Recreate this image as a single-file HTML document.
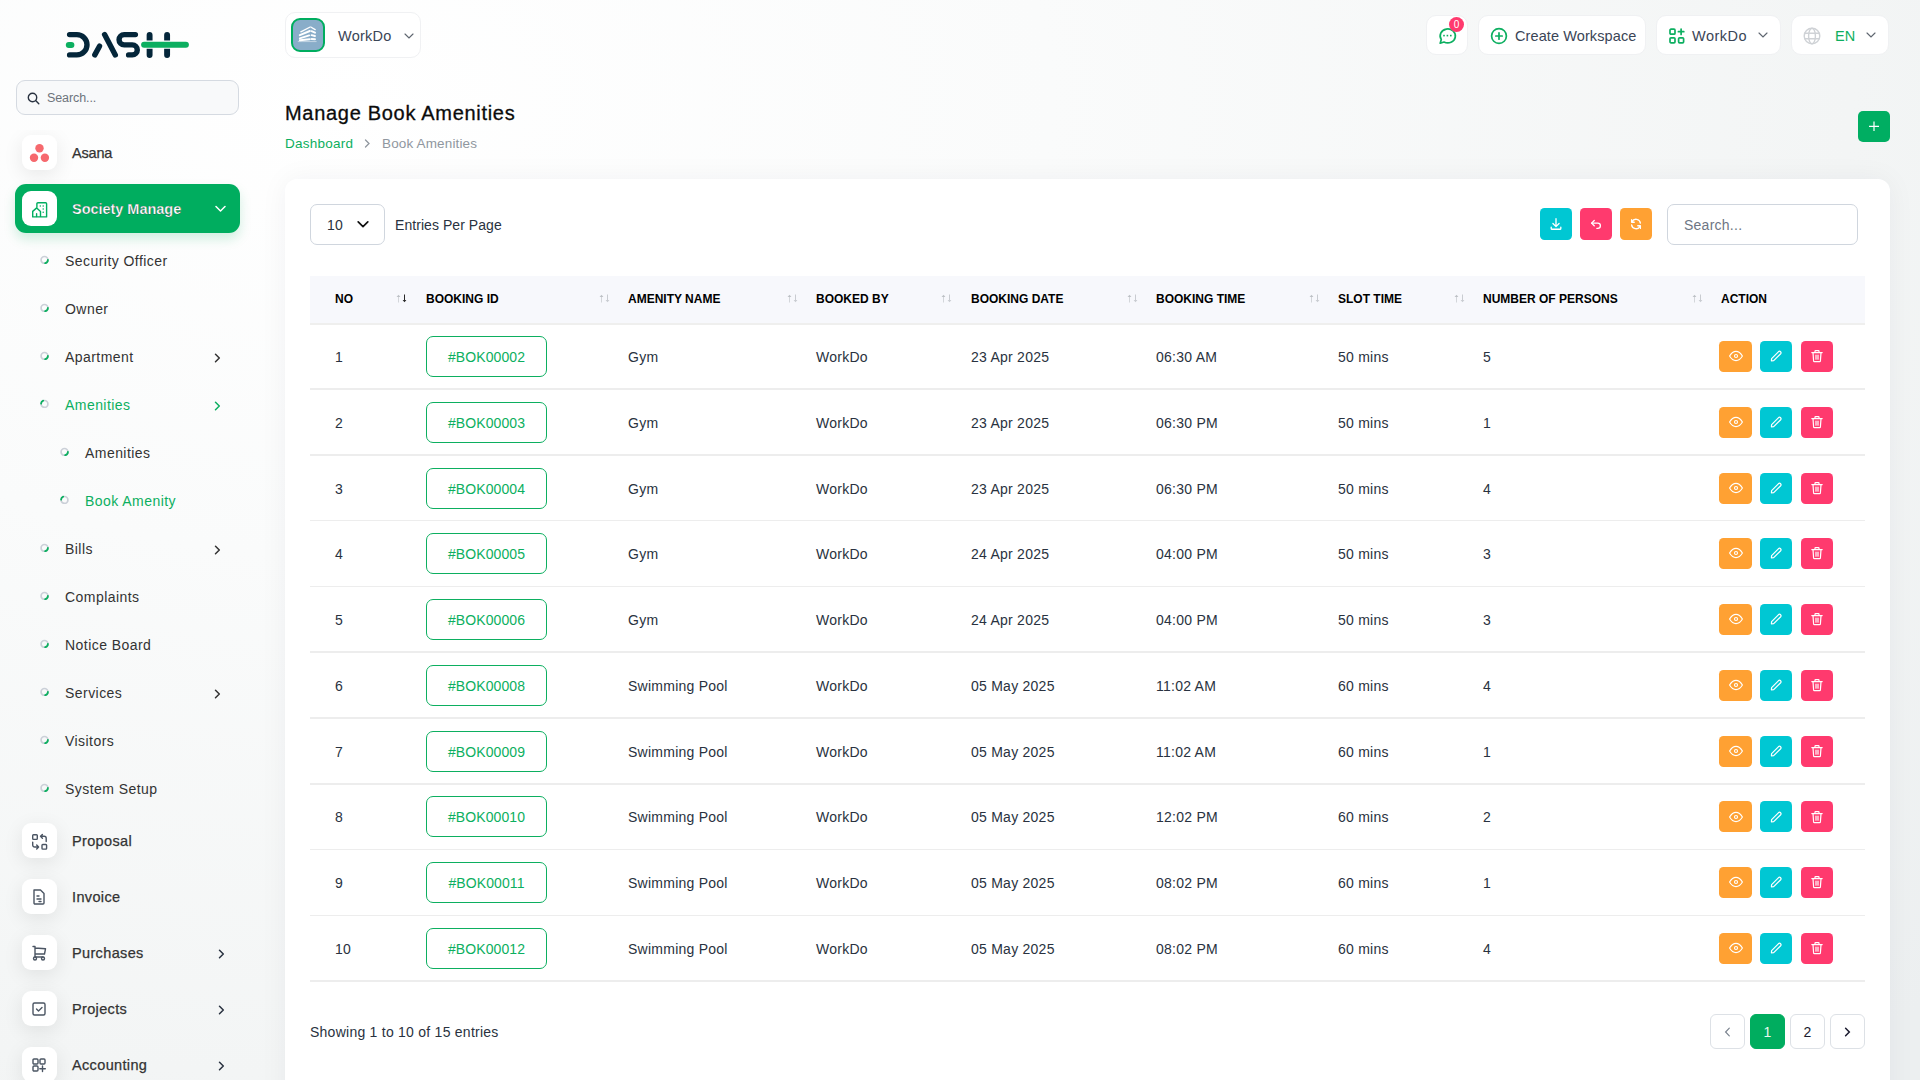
<!DOCTYPE html>
<html><head><meta charset="utf-8">
<style>
*{box-sizing:border-box;margin:0;padding:0}
html,body{width:1920px;height:1080px;overflow:hidden}
body{font-family:"Liberation Sans",sans-serif;color:#293240;background:radial-gradient(2000px 1300px at 350px 100px,#ffffff 0%,#fafbfb 35%,#f3f5f5 75%,#eceff0 105%);position:relative}
.abs{position:absolute}
svg{display:block}
/* sidebar */
.logo{left:66px;top:31px}
.sb-search{left:16px;top:80px;width:223px;height:35px;border:1px solid #d5dae1;border-radius:9px;background:#f8f9fa}
.sb-search .ph{position:absolute;left:30px;top:10px;font-size:12.5px;color:#6d747c;letter-spacing:-.1px}
.sb-search svg{position:absolute;left:10px;top:11px}
.ibox{width:35px;height:35px;border-radius:9px;background:#fff;box-shadow:0 5px 20px rgba(0,0,0,.085)}
.sbt{font-size:14.5px;color:#333;letter-spacing:-.2px;white-space:nowrap;-webkit-text-stroke:.25px #333}
.sbl{font-size:14px;color:#333;letter-spacing:.45px;white-space:nowrap}
.bul{width:9px;height:9px}
.chev{width:10px;height:10px}
.active{background:#00ad5f;left:15px;top:184px;width:225px;height:49px;border-radius:11px;box-shadow:0 6px 12px rgba(0,173,95,.18)}
/* header */
.hbox{background:#fff;border-radius:10px;border:1px solid #f0f1f3}
.htxt{font-size:14.5px;color:#3a4556;white-space:nowrap;letter-spacing:.1px}
/* card */
.card{left:285px;top:179px;width:1605px;height:960px;background:#fff;border-radius:12px;box-shadow:0 0 28px rgba(30,40,60,.05)}
.th{font-size:12px;font-weight:bold;color:#000;white-space:nowrap;letter-spacing:0px}
.td{font-size:14px;color:#293240;white-space:nowrap;letter-spacing:.25px}
.bid{width:121px;height:41px;border:1.5px solid #0caf60;border-radius:7px;color:#0caf60;font-size:14px;text-align:center;line-height:38px;padding-top:1px;letter-spacing:.1px}
.btn{width:33px;height:31px;border-radius:4.5px}
.o{background:#ffa133}.c{background:#00c7d3}.p{background:#ff3a6e}
.pg{width:35px;height:35px;border:1px solid #dde1e6;border-radius:6px;background:#fff;text-align:center;line-height:33px;font-size:14px;color:#1a1a2e}
</style></head>
<body>
<!-- SIDEBAR -->
<svg class="abs" style="left:60px;top:26px" width="136" height="36" viewBox="60 26 136 36">
  <g fill="none" stroke-linecap="round" stroke="#04263a" stroke-width="5.4">
    <path d="M69.6 34.6 H76.85 A10.15 10.15 0 0 1 76.85 54.9 H69.6"/>
    <path d="M94.8 54.9 L99.5 46.2"/>
    <path d="M104.6 34.6 L115.3 54.9"/>
    <path d="M135.4 34.6 H124.2 A5.15 5.15 0 0 0 124.2 44.9 H132.3 A5 5 0 0 1 132.3 54.9 H128.6"/>
    <path d="M149.6 34.9 V55 M167.1 34.9 V55" stroke-width="5.9"/>
  </g>
  <path d="M68.8 45 H71.4" stroke="#0caf60" stroke-width="6" stroke-linecap="round"/>
  <path d="M144.1 44.65 H185.9" stroke="#ffffff" stroke-width="8.4" stroke-linecap="round"/>
  <path d="M144.1 44.65 H185.9" stroke="#0caf60" stroke-width="6" stroke-linecap="round"/>
</svg>
<div class="abs sb-search">
  <svg width="13" height="13" viewBox="0 0 13 13"><circle cx="5.5" cy="5.5" r="4.2" fill="none" stroke="#293240" stroke-width="1.4"/><path d="M8.6 8.6 L11.8 11.8" stroke="#293240" stroke-width="1.4" stroke-linecap="round"/></svg>
  <div class="ph">Search...</div>
</div>

<div class="abs" style="left:0;top:130px;width:265px;height:950px;overflow:hidden"><div class="abs ibox" style="left:22px;top:5px"></div></div>
<svg class="abs" style="left:29px;top:142px" width="21" height="21" viewBox="0 0 21 21"><circle cx="10.5" cy="6.2" r="4.2" fill="#f6696e"/><circle cx="5" cy="15.7" r="4.2" fill="#f6696e"/><circle cx="15.9" cy="15.7" r="4.2" fill="#f6696e"/></svg>
<div class="abs sbt" style="left:72px;top:145px">Asana</div>

<div class="abs active"></div>
<div class="abs ibox" style="left:22px;top:191px;box-shadow:none"></div>
<svg class="abs" style="left:31px;top:201px" width="18" height="18" viewBox="0 0 18 18" fill="none" stroke="#00ad5f" stroke-width="1.4" stroke-linejoin="round" stroke-linecap="round"><path d="M5.9 6.6 V2.7 a1 1 0 0 1 1 -1 H14.6 a1 1 0 0 1 1 1 V15.9 H1.7 V10.4 L5.7 6.9 L9.5 10.4 V15.9"/><path d="M5.6 12.7 V15.6"/><g fill="#00ad5f" stroke="none"><circle cx="9.3" cy="5.1" r=".75"/><circle cx="12.2" cy="5.1" r=".75"/><circle cx="12.2" cy="8.1" r=".75"/><circle cx="12.2" cy="11.2" r=".75"/></g></svg>
<div class="abs sbt" style="left:72px;top:201px;color:#fff;font-weight:bold;letter-spacing:-.03px">Society Manage</div>
<svg class="abs" style="left:215px;top:205px" width="11" height="8" viewBox="0 0 11 8"><path d="M1 1.5 L5.5 6 L10 1.5" fill="none" stroke="#fff" stroke-width="1.5" stroke-linecap="round" stroke-linejoin="round"/></svg>

<svg class="abs" style="left:40px;top:255px" width="9" height="9" viewBox="0 0 9 9"><circle cx="4.5" cy="4.9" r="3.4" fill="none" stroke="#cbd0d8" stroke-width="1.7"/><path d="M7.9 5 A3.4 3.4 0 0 1 5.2 8.2" fill="none" stroke="#0caf60" stroke-width="1.8" stroke-linecap="round"/></svg>
<div class="abs sbl" style="left:65px;top:253px;color:#333333">Security Officer</div>
<svg class="abs" style="left:40px;top:303px" width="9" height="9" viewBox="0 0 9 9"><circle cx="4.5" cy="4.9" r="3.4" fill="none" stroke="#cbd0d8" stroke-width="1.7"/><path d="M7.9 5 A3.4 3.4 0 0 1 5.2 8.2" fill="none" stroke="#0caf60" stroke-width="1.8" stroke-linecap="round"/></svg>
<div class="abs sbl" style="left:65px;top:301px;color:#333333">Owner</div>
<svg class="abs" style="left:40px;top:351px" width="9" height="9" viewBox="0 0 9 9"><circle cx="4.5" cy="4.9" r="3.4" fill="none" stroke="#cbd0d8" stroke-width="1.7"/><path d="M7.9 5 A3.4 3.4 0 0 1 5.2 8.2" fill="none" stroke="#0caf60" stroke-width="1.8" stroke-linecap="round"/></svg>
<div class="abs sbl" style="left:65px;top:349px;color:#333333">Apartment</div>
<svg class="abs" style="left:213.5px;top:352.8px" width="7" height="10" viewBox="0 0 7 10"><path d="M1.5 1.2 L5.3 5 L1.5 8.8" fill="none" stroke="#333333" stroke-width="1.5" stroke-linecap="round" stroke-linejoin="round"/></svg>
<svg class="abs" style="left:40px;top:399px" width="9" height="9" viewBox="0 0 9 9"><circle cx="4.5" cy="4.9" r="3.4" fill="none" stroke="#cbd0d8" stroke-width="1.7"/><path d="M1.1 4.6 A3.4 3.4 0 0 1 3.2 1.6" fill="none" stroke="#0caf60" stroke-width="1.8" stroke-linecap="round"/></svg>
<div class="abs sbl" style="left:65px;top:397px;color:#0caf60">Amenities</div>
<svg class="abs" style="left:213.5px;top:400.8px" width="7" height="10" viewBox="0 0 7 10"><path d="M1.5 1.2 L5.3 5 L1.5 8.8" fill="none" stroke="#0caf60" stroke-width="1.5" stroke-linecap="round" stroke-linejoin="round"/></svg>
<svg class="abs" style="left:60px;top:447px" width="9" height="9" viewBox="0 0 9 9"><circle cx="4.5" cy="4.9" r="3.4" fill="none" stroke="#cbd0d8" stroke-width="1.7"/><path d="M7.9 5 A3.4 3.4 0 0 1 5.2 8.2" fill="none" stroke="#0caf60" stroke-width="1.8" stroke-linecap="round"/></svg>
<div class="abs sbl" style="left:85px;top:445px;color:#333333">Amenities</div>
<svg class="abs" style="left:60px;top:495px" width="9" height="9" viewBox="0 0 9 9"><circle cx="4.5" cy="4.9" r="3.4" fill="none" stroke="#cbd0d8" stroke-width="1.7"/><path d="M1.1 4.6 A3.4 3.4 0 0 1 3.2 1.6" fill="none" stroke="#0caf60" stroke-width="1.8" stroke-linecap="round"/></svg>
<div class="abs sbl" style="left:85px;top:493px;color:#0caf60">Book Amenity</div>
<svg class="abs" style="left:40px;top:543px" width="9" height="9" viewBox="0 0 9 9"><circle cx="4.5" cy="4.9" r="3.4" fill="none" stroke="#cbd0d8" stroke-width="1.7"/><path d="M7.9 5 A3.4 3.4 0 0 1 5.2 8.2" fill="none" stroke="#0caf60" stroke-width="1.8" stroke-linecap="round"/></svg>
<div class="abs sbl" style="left:65px;top:541px;color:#333333">Bills</div>
<svg class="abs" style="left:213.5px;top:544.8px" width="7" height="10" viewBox="0 0 7 10"><path d="M1.5 1.2 L5.3 5 L1.5 8.8" fill="none" stroke="#333333" stroke-width="1.5" stroke-linecap="round" stroke-linejoin="round"/></svg>
<svg class="abs" style="left:40px;top:591px" width="9" height="9" viewBox="0 0 9 9"><circle cx="4.5" cy="4.9" r="3.4" fill="none" stroke="#cbd0d8" stroke-width="1.7"/><path d="M7.9 5 A3.4 3.4 0 0 1 5.2 8.2" fill="none" stroke="#0caf60" stroke-width="1.8" stroke-linecap="round"/></svg>
<div class="abs sbl" style="left:65px;top:589px;color:#333333">Complaints</div>
<svg class="abs" style="left:40px;top:639px" width="9" height="9" viewBox="0 0 9 9"><circle cx="4.5" cy="4.9" r="3.4" fill="none" stroke="#cbd0d8" stroke-width="1.7"/><path d="M7.9 5 A3.4 3.4 0 0 1 5.2 8.2" fill="none" stroke="#0caf60" stroke-width="1.8" stroke-linecap="round"/></svg>
<div class="abs sbl" style="left:65px;top:637px;color:#333333">Notice Board</div>
<svg class="abs" style="left:40px;top:687px" width="9" height="9" viewBox="0 0 9 9"><circle cx="4.5" cy="4.9" r="3.4" fill="none" stroke="#cbd0d8" stroke-width="1.7"/><path d="M7.9 5 A3.4 3.4 0 0 1 5.2 8.2" fill="none" stroke="#0caf60" stroke-width="1.8" stroke-linecap="round"/></svg>
<div class="abs sbl" style="left:65px;top:685px;color:#333333">Services</div>
<svg class="abs" style="left:213.5px;top:688.8px" width="7" height="10" viewBox="0 0 7 10"><path d="M1.5 1.2 L5.3 5 L1.5 8.8" fill="none" stroke="#333333" stroke-width="1.5" stroke-linecap="round" stroke-linejoin="round"/></svg>
<svg class="abs" style="left:40px;top:735px" width="9" height="9" viewBox="0 0 9 9"><circle cx="4.5" cy="4.9" r="3.4" fill="none" stroke="#cbd0d8" stroke-width="1.7"/><path d="M7.9 5 A3.4 3.4 0 0 1 5.2 8.2" fill="none" stroke="#0caf60" stroke-width="1.8" stroke-linecap="round"/></svg>
<div class="abs sbl" style="left:65px;top:733px;color:#333333">Visitors</div>
<svg class="abs" style="left:40px;top:783px" width="9" height="9" viewBox="0 0 9 9"><circle cx="4.5" cy="4.9" r="3.4" fill="none" stroke="#cbd0d8" stroke-width="1.7"/><path d="M7.9 5 A3.4 3.4 0 0 1 5.2 8.2" fill="none" stroke="#0caf60" stroke-width="1.8" stroke-linecap="round"/></svg>
<div class="abs sbl" style="left:65px;top:781px;color:#333333">System Setup</div>

<!-- bottom modules -->
<div class="abs ibox" style="left:22px;top:823px"></div>
<svg class="abs" style="left:30px;top:832px" width="18" height="18" viewBox="0 0 18 18" fill="none" stroke="#4b5563" stroke-width="1.4" stroke-linecap="round" stroke-linejoin="round"><rect x="2.7" y="2.8" width="4.6" height="4.6" rx=".8"/><rect x="12" y="12.5" width="4.6" height="4.6" rx=".8"/><path d="M16.2 9.6 V6.3 a2 2 0 0 0 -2 -2 H10.6 M12.4 2.4 L10.5 4.3 L12.4 6.2"/><path d="M2.7 10.2 V13 a2 2 0 0 0 2 2 H8.5 M6.7 13.1 L8.6 15 L6.7 16.9"/></svg>
<div class="abs sbt" style="left:72px;top:833px;letter-spacing:.35px">Proposal</div>
<div class="abs ibox" style="left:22px;top:879px"></div>
<svg class="abs" style="left:30px;top:888px" width="18" height="18" viewBox="0 0 18 18" fill="none" stroke="#4b5563" stroke-width="1.4" stroke-linecap="round" stroke-linejoin="round"><path d="M4 2 H10.5 L14 5.5 V15 a1 1 0 0 1 -1 1 H5 a1 1 0 0 1 -1 -1 Z"/><path d="M7 8 H9 M7 11 H11 M9 13.5 H11"/></svg>
<div class="abs sbt" style="left:72px;top:889px;letter-spacing:.35px">Invoice</div>
<div class="abs ibox" style="left:22px;top:935px"></div>
<svg class="abs" style="left:30px;top:944px" width="18" height="18" viewBox="0 0 18 18" fill="none" stroke="#4b5563" stroke-width="1.4" stroke-linecap="round" stroke-linejoin="round"><circle cx="5" cy="14.5" r="1.5"/><circle cx="13" cy="14.5" r="1.5"/><path d="M13 13 H5 V2.5 H3 M5 4 L15.5 4.8 L14.5 10 H5"/></svg>
<div class="abs sbt" style="left:72px;top:945px;letter-spacing:.35px">Purchases</div>
<svg class="abs" style="left:218px;top:949px" width="7" height="10" viewBox="0 0 7 10"><path d="M1.5 1.2 L5.3 5 L1.5 8.8" fill="none" stroke="#293240" stroke-width="1.5" stroke-linecap="round" stroke-linejoin="round"/></svg>
<div class="abs ibox" style="left:22px;top:991px"></div>
<svg class="abs" style="left:30px;top:1000px" width="18" height="18" viewBox="0 0 18 18" fill="none" stroke="#4b5563" stroke-width="1.4" stroke-linecap="round" stroke-linejoin="round"><rect x="3" y="3" width="12" height="12" rx="1.5"/><path d="M6.5 9 L8.5 11 L12 7.5"/></svg>
<div class="abs sbt" style="left:72px;top:1001px;letter-spacing:.35px">Projects</div>
<svg class="abs" style="left:218px;top:1005px" width="7" height="10" viewBox="0 0 7 10"><path d="M1.5 1.2 L5.3 5 L1.5 8.8" fill="none" stroke="#293240" stroke-width="1.5" stroke-linecap="round" stroke-linejoin="round"/></svg>
<div class="abs ibox" style="left:22px;top:1047px"></div>
<svg class="abs" style="left:30px;top:1056px" width="18" height="18" viewBox="0 0 18 18" fill="none" stroke="#4b5563" stroke-width="1.4" stroke-linecap="round" stroke-linejoin="round"><rect x="3" y="3" width="5" height="5" rx="1"/><rect x="10" y="3" width="5" height="5" rx="1"/><rect x="3" y="10" width="5" height="5" rx="1"/><path d="M12.5 10 V15.5 M9.8 12.8 H15.3"/></svg>
<div class="abs sbt" style="left:72px;top:1057px;letter-spacing:.35px">Accounting</div>
<svg class="abs" style="left:218px;top:1061px" width="7" height="10" viewBox="0 0 7 10"><path d="M1.5 1.2 L5.3 5 L1.5 8.8" fill="none" stroke="#293240" stroke-width="1.5" stroke-linecap="round" stroke-linejoin="round"/></svg>

<!-- HEADER -->
<div class="abs hbox" style="left:285px;top:12px;width:136px;height:45.5px"></div>
<div class="abs" style="left:291px;top:18px;width:34px;height:34px;border:2.2px solid #00ad5f;border-radius:9px;background:#89adc9"></div>
<svg class="abs" style="left:290px;top:17px" width="37" height="36" viewBox="290 17 37 36" fill="none" stroke="#fff" stroke-linecap="round">
<path d="M300.8 31.8 L310.2 27" stroke-width="1.3"/><path d="M311.2 27.2 L315.2 29.6" stroke-width="1.3"/>
<path d="M299.8 35.2 L309.8 31" stroke-width="2"/><path d="M311.6 31.2 L315 32.6" stroke-width="2"/>
<path d="M299.8 38.3 L309.2 35.4" stroke-width="1.9"/><path d="M311.6 35.2 L315 36" stroke-width="1.9"/>
<path d="M299.8 40.2 L309.8 39.2" stroke-width="1.9"/><path d="M311.6 39 L315 39.2" stroke-width="1.9"/>
<path d="M298.2 41.6 H316.2" stroke-width="0.9" stroke-opacity=".55"/>
</svg>
<div class="abs htxt" style="left:338px;top:28px;letter-spacing:.25px">WorkDo</div>
<svg class="abs" style="left:404px;top:33px" width="10" height="7" viewBox="0 0 10 7"><path d="M1 1 L5 5 L9 1" fill="none" stroke="#5f6670" stroke-width="1.15" stroke-linecap="round"/></svg>

<div class="abs hbox" style="left:1426px;top:15px;width:42px;height:40px"></div>
<svg class="abs" style="left:1438px;top:27px" width="19" height="18" viewBox="0 0 19 18"><path d="M2.2 16.2 L3.3 12.6 A7.6 7 0 1 1 6 15 Z" fill="none" stroke="#0caf60" stroke-width="1.7" stroke-linejoin="round"/><rect x="5.2" y="7.8" width="1.6" height="1.6" fill="#0caf60"/><rect x="8.6" y="7.8" width="1.6" height="1.6" fill="#0caf60"/><rect x="12" y="7.8" width="1.6" height="1.6" fill="#0caf60"/></svg>
<div class="abs" style="left:1449px;top:17px;width:15px;height:15px;border-radius:50%;background:#ff3a6e;color:#fff;font-size:10px;text-align:center;line-height:15px">0</div>

<div class="abs hbox" style="left:1478px;top:15px;width:168px;height:40px"></div>
<svg class="abs" style="left:1490px;top:27px" width="18" height="18" viewBox="0 0 18 18" fill="none" stroke="#0caf60" stroke-width="1.7"><circle cx="9" cy="9" r="7.4"/><path d="M9 5.8 V12.2 M5.8 9 H12.2" stroke-linecap="round"/></svg>
<div class="abs htxt" style="left:1515px;top:28px">Create Workspace</div>

<div class="abs hbox" style="left:1656px;top:15px;width:125px;height:40px"></div>
<svg class="abs" style="left:1669px;top:28px" width="16" height="16" viewBox="0 0 16 16" fill="none" stroke="#0caf60" stroke-width="1.7" stroke-linejoin="round"><rect x="1" y="1.2" width="5" height="5" rx="1"/><rect x="1" y="9.8" width="5" height="5" rx="1"/><rect x="9.6" y="9.8" width="5" height="5" rx="1"/><path d="M12.1 1 V6.4 M9.4 3.7 H14.8" stroke-linecap="round"/></svg>
<div class="abs htxt" style="left:1692px;top:28px;letter-spacing:.5px">WorkDo</div>
<svg class="abs" style="left:1758px;top:32px" width="10" height="7" viewBox="0 0 10 7"><path d="M1 1 L5 5 L9 1" fill="none" stroke="#5f6670" stroke-width="1.15" stroke-linecap="round"/></svg>

<div class="abs hbox" style="left:1791px;top:15px;width:98px;height:40px"></div>
<svg class="abs" style="left:1803px;top:27px" width="18" height="18" viewBox="0 0 18 18" fill="none" stroke="#cfd2d6" stroke-width="1.4"><circle cx="9" cy="9" r="7.8"/><ellipse cx="9" cy="9" rx="3.4" ry="7.8"/><path d="M1.5 6.3 H16.5 M1.5 11.7 H16.5"/></svg>
<div class="abs htxt" style="left:1835px;top:28px;color:#0caf60">EN</div>
<svg class="abs" style="left:1866px;top:32px" width="10" height="7" viewBox="0 0 10 7"><path d="M1 1 L5 5 L9 1" fill="none" stroke="#5f6670" stroke-width="1.15" stroke-linecap="round"/></svg>

<!-- TITLE -->
<div class="abs" style="left:285px;top:102px;font-size:20px;color:#0b0b0b;letter-spacing:.7px;-webkit-text-stroke:.3px #0b0b0b;white-space:nowrap">Manage Book Amenities</div>
<div class="abs" style="left:285px;top:136px;font-size:13.5px;color:#0caf60;white-space:nowrap;letter-spacing:.25px">Dashboard</div>
<svg class="abs" style="left:364px;top:139px" width="7" height="9" viewBox="0 0 7 9"><path d="M1.5 1 L5 4.5 L1.5 8" fill="none" stroke="#90979f" stroke-width="1.3" stroke-linecap="round"/></svg>
<div class="abs" style="left:382px;top:136px;font-size:13.5px;color:#90979f;white-space:nowrap;letter-spacing:.15px">Book Amenities</div>
<div class="abs" style="left:1858px;top:111px;width:32px;height:31px;border-radius:5px;background:#00ae62"></div>
<svg class="abs" style="left:1868px;top:121px" width="12" height="11" viewBox="0 0 12 11"><path d="M6 0.5 V10 M1 5.3 H11" stroke="#fff" stroke-width="1.2"/></svg>

<!-- CARD -->
<div class="abs card"></div>
<div class="abs" style="left:310px;top:204px;width:75px;height:41px;border:1px solid #d0d6de;border-radius:7px;background:#fff"></div>
<div class="abs td" style="left:327px;top:217px">10</div>
<svg class="abs" style="left:357px;top:220px" width="12" height="9" viewBox="0 0 12 9"><path d="M1.2 1.8 L6 6.6 L10.8 1.8" fill="none" stroke="#111" stroke-width="1.7" stroke-linecap="round" stroke-linejoin="round"/></svg>
<div class="abs td" style="left:395px;top:217px;letter-spacing:.06px">Entries Per Page</div>
<div class="abs btn c" style="left:1540px;top:208px;width:32px;height:32px"></div>
<svg class="abs" style="left:1549px;top:217px" width="14" height="14" viewBox="0 0 16 16" fill="none" stroke="#fff" stroke-width="1.5" stroke-linecap="round" stroke-linejoin="round"><path d="M8 2 V10.5 M4.5 7.5 L8 11 L11.5 7.5"/><path d="M2.5 11.5 V13 a1 1 0 0 0 1 1 H12.5 a1 1 0 0 0 1 -1 V11.5"/></svg>
<div class="abs btn p" style="left:1580px;top:208px;width:32px;height:32px"></div>
<svg class="abs" style="left:1589px;top:217px" width="14" height="14" viewBox="0 0 16 16" fill="none" stroke="#fff" stroke-width="1.5" stroke-linecap="round" stroke-linejoin="round"><path d="M6 4 L3 7 L6 10"/><path d="M3 7 H10 a3 3 0 0 1 0 6 H9"/></svg>
<div class="abs btn o" style="left:1620px;top:208px;width:32px;height:32px"></div>
<svg class="abs" style="left:1629px;top:217px" width="14" height="14" viewBox="0 0 16 16" fill="none" stroke="#fff" stroke-width="1.5" stroke-linecap="round" stroke-linejoin="round"><path d="M13 7 A5 5 0 0 0 3.5 5.5 M3 3 V6 H6"/><path d="M3 9 A5 5 0 0 0 12.5 10.5 M13 13 V10 H10"/></svg>
<div class="abs" style="left:1667px;top:204px;width:191px;height:41px;border:1px solid #d0d6de;border-radius:7px;background:#fff"></div>
<div class="abs td" style="left:1684px;top:217px;color:#6e7684">Search...</div>
<div class="abs" style="left:310px;top:276px;width:1555px;height:48px;background:#f7f8fc"></div>
<div class="abs" style="left:310px;top:323px;width:1555px;height:2px;background:#efefee"></div>
<div class="abs th" style="left:335px;top:292px">NO</div>
<div class="abs th" style="left:426px;top:292px">BOOKING ID</div>
<div class="abs th" style="left:628px;top:292px">AMENITY NAME</div>
<div class="abs th" style="left:816px;top:292px">BOOKED BY</div>
<div class="abs th" style="left:971px;top:292px">BOOKING DATE</div>
<div class="abs th" style="left:1156px;top:292px">BOOKING TIME</div>
<div class="abs th" style="left:1338px;top:292px">SLOT TIME</div>
<div class="abs th" style="left:1483px;top:292px">NUMBER OF PERSONS</div>
<div class="abs th" style="left:1721px;top:292px">ACTION</div>
<svg class="abs" style="left:396px;top:294px" width="12" height="9" viewBox="0 0 12 9"><path d="M2.5 8.5 V2" stroke="#d3d6da" stroke-width="1"/><path d="M0.6 3 L2.5 0.7 L4.4 3 Z" fill="#bdc0c5"/><path d="M8.5 0.5 V7" stroke="#2a2a2a" stroke-width="1"/><path d="M6.6 6 L8.5 8.3 L10.4 6 Z" fill="#2a2a2a"/></svg>
<svg class="abs" style="left:599px;top:294px" width="12" height="9" viewBox="0 0 12 9"><path d="M2.5 8.5 V2" stroke="#d3d6da" stroke-width="1"/><path d="M0.6 3 L2.5 0.7 L4.4 3 Z" fill="#bdc0c5"/><path d="M8.5 0.5 V7" stroke="#c9ccd1" stroke-width="1"/><path d="M6.6 6 L8.5 8.3 L10.4 6 Z" fill="#c9ccd1"/></svg>
<svg class="abs" style="left:787px;top:294px" width="12" height="9" viewBox="0 0 12 9"><path d="M2.5 8.5 V2" stroke="#d3d6da" stroke-width="1"/><path d="M0.6 3 L2.5 0.7 L4.4 3 Z" fill="#bdc0c5"/><path d="M8.5 0.5 V7" stroke="#c9ccd1" stroke-width="1"/><path d="M6.6 6 L8.5 8.3 L10.4 6 Z" fill="#c9ccd1"/></svg>
<svg class="abs" style="left:941px;top:294px" width="12" height="9" viewBox="0 0 12 9"><path d="M2.5 8.5 V2" stroke="#d3d6da" stroke-width="1"/><path d="M0.6 3 L2.5 0.7 L4.4 3 Z" fill="#bdc0c5"/><path d="M8.5 0.5 V7" stroke="#c9ccd1" stroke-width="1"/><path d="M6.6 6 L8.5 8.3 L10.4 6 Z" fill="#c9ccd1"/></svg>
<svg class="abs" style="left:1127px;top:294px" width="12" height="9" viewBox="0 0 12 9"><path d="M2.5 8.5 V2" stroke="#d3d6da" stroke-width="1"/><path d="M0.6 3 L2.5 0.7 L4.4 3 Z" fill="#bdc0c5"/><path d="M8.5 0.5 V7" stroke="#c9ccd1" stroke-width="1"/><path d="M6.6 6 L8.5 8.3 L10.4 6 Z" fill="#c9ccd1"/></svg>
<svg class="abs" style="left:1309px;top:294px" width="12" height="9" viewBox="0 0 12 9"><path d="M2.5 8.5 V2" stroke="#d3d6da" stroke-width="1"/><path d="M0.6 3 L2.5 0.7 L4.4 3 Z" fill="#bdc0c5"/><path d="M8.5 0.5 V7" stroke="#c9ccd1" stroke-width="1"/><path d="M6.6 6 L8.5 8.3 L10.4 6 Z" fill="#c9ccd1"/></svg>
<svg class="abs" style="left:1454px;top:294px" width="12" height="9" viewBox="0 0 12 9"><path d="M2.5 8.5 V2" stroke="#d3d6da" stroke-width="1"/><path d="M0.6 3 L2.5 0.7 L4.4 3 Z" fill="#bdc0c5"/><path d="M8.5 0.5 V7" stroke="#c9ccd1" stroke-width="1"/><path d="M6.6 6 L8.5 8.3 L10.4 6 Z" fill="#c9ccd1"/></svg>
<svg class="abs" style="left:1692px;top:294px" width="12" height="9" viewBox="0 0 12 9"><path d="M2.5 8.5 V2" stroke="#d3d6da" stroke-width="1"/><path d="M0.6 3 L2.5 0.7 L4.4 3 Z" fill="#bdc0c5"/><path d="M8.5 0.5 V7" stroke="#c9ccd1" stroke-width="1"/><path d="M6.6 6 L8.5 8.3 L10.4 6 Z" fill="#c9ccd1"/></svg>
<div class="abs td" style="left:335px;top:349px">1</div>
<div class="abs bid" style="left:426px;top:336px">#BOK00002</div>
<div class="abs td" style="left:628px;top:349px">Gym</div>
<div class="abs td" style="left:816px;top:349px">WorkDo</div>
<div class="abs td" style="left:971px;top:349px">23 Apr 2025</div>
<div class="abs td" style="left:1156px;top:349px">06:30 AM</div>
<div class="abs td" style="left:1338px;top:349px">50 mins</div>
<div class="abs td" style="left:1483px;top:349px">5</div>
<div class="abs btn o" style="left:1719px;top:341px;width:33px"></div>
<svg class="abs" style="left:1727.5px;top:348.10px" width="16" height="16" viewBox="-8 -8 16 16" fill="none" stroke="#fff" stroke-width="1.2" stroke-linecap="round" stroke-linejoin="round"><path d="M-6.4 0 C-4.5 -3.2 -2.3 -4.6 0 -4.6 C2.3 -4.6 4.5 -3.2 6.4 0 C4.5 3.2 2.3 4.6 0 4.6 C-2.3 4.6 -4.5 3.2 -6.4 0 Z"/><circle cx="0" cy="0" r="1.5"/></svg>
<div class="abs btn c" style="left:1760px;top:341px;width:32px"></div>
<svg class="abs" style="left:1768px;top:348.10px" width="16" height="16" viewBox="-8 -8 16 16" fill="none" stroke="#fff" stroke-width="1.2" stroke-linecap="round" stroke-linejoin="round"><path d="M-4.6 4.8 L-4.4 2.6 L2.6 -4.4 a1.5 1.5 0 0 1 2.1 2.1 L-2.3 4.6 Z"/></svg>
<div class="abs btn p" style="left:1801px;top:341px;width:32px"></div>
<svg class="abs" style="left:1809px;top:348.10px" width="16" height="16" viewBox="-8 -8 16 16" fill="none" stroke="#fff" stroke-width="1.2" stroke-linecap="round" stroke-linejoin="round"><path d="M-5.2 -3.4 H5.2 M-2 -3.4 V-4.8 a.6 .6 0 0 1 .6 -.6 H1.4 a.6 .6 0 0 1 .6 .6 V-3.4 M-4 -3.4 L-3.4 4.9 a.8 .8 0 0 0 .8 .7 H2.6 a.8 .8 0 0 0 .8 -.7 L4 -3.4 M-1 -1 V3.2 M1 -1 V3.2"/></svg>
<div class="abs" style="left:310px;top:388.30px;width:1555px;height:1.6px;background:#ededed"></div>
<div class="abs td" style="left:335px;top:415px">2</div>
<div class="abs bid" style="left:426px;top:402px">#BOK00003</div>
<div class="abs td" style="left:628px;top:415px">Gym</div>
<div class="abs td" style="left:816px;top:415px">WorkDo</div>
<div class="abs td" style="left:971px;top:415px">23 Apr 2025</div>
<div class="abs td" style="left:1156px;top:415px">06:30 PM</div>
<div class="abs td" style="left:1338px;top:415px">50 mins</div>
<div class="abs td" style="left:1483px;top:415px">1</div>
<div class="abs btn o" style="left:1719px;top:407px;width:33px"></div>
<svg class="abs" style="left:1727.5px;top:413.88px" width="16" height="16" viewBox="-8 -8 16 16" fill="none" stroke="#fff" stroke-width="1.2" stroke-linecap="round" stroke-linejoin="round"><path d="M-6.4 0 C-4.5 -3.2 -2.3 -4.6 0 -4.6 C2.3 -4.6 4.5 -3.2 6.4 0 C4.5 3.2 2.3 4.6 0 4.6 C-2.3 4.6 -4.5 3.2 -6.4 0 Z"/><circle cx="0" cy="0" r="1.5"/></svg>
<div class="abs btn c" style="left:1760px;top:407px;width:32px"></div>
<svg class="abs" style="left:1768px;top:413.88px" width="16" height="16" viewBox="-8 -8 16 16" fill="none" stroke="#fff" stroke-width="1.2" stroke-linecap="round" stroke-linejoin="round"><path d="M-4.6 4.8 L-4.4 2.6 L2.6 -4.4 a1.5 1.5 0 0 1 2.1 2.1 L-2.3 4.6 Z"/></svg>
<div class="abs btn p" style="left:1801px;top:407px;width:32px"></div>
<svg class="abs" style="left:1809px;top:413.88px" width="16" height="16" viewBox="-8 -8 16 16" fill="none" stroke="#fff" stroke-width="1.2" stroke-linecap="round" stroke-linejoin="round"><path d="M-5.2 -3.4 H5.2 M-2 -3.4 V-4.8 a.6 .6 0 0 1 .6 -.6 H1.4 a.6 .6 0 0 1 .6 .6 V-3.4 M-4 -3.4 L-3.4 4.9 a.8 .8 0 0 0 .8 .7 H2.6 a.8 .8 0 0 0 .8 -.7 L4 -3.4 M-1 -1 V3.2 M1 -1 V3.2"/></svg>
<div class="abs" style="left:310px;top:454.08px;width:1555px;height:1.6px;background:#ededed"></div>
<div class="abs td" style="left:335px;top:481px">3</div>
<div class="abs bid" style="left:426px;top:468px">#BOK00004</div>
<div class="abs td" style="left:628px;top:481px">Gym</div>
<div class="abs td" style="left:816px;top:481px">WorkDo</div>
<div class="abs td" style="left:971px;top:481px">23 Apr 2025</div>
<div class="abs td" style="left:1156px;top:481px">06:30 PM</div>
<div class="abs td" style="left:1338px;top:481px">50 mins</div>
<div class="abs td" style="left:1483px;top:481px">4</div>
<div class="abs btn o" style="left:1719px;top:473px;width:33px"></div>
<svg class="abs" style="left:1727.5px;top:479.66px" width="16" height="16" viewBox="-8 -8 16 16" fill="none" stroke="#fff" stroke-width="1.2" stroke-linecap="round" stroke-linejoin="round"><path d="M-6.4 0 C-4.5 -3.2 -2.3 -4.6 0 -4.6 C2.3 -4.6 4.5 -3.2 6.4 0 C4.5 3.2 2.3 4.6 0 4.6 C-2.3 4.6 -4.5 3.2 -6.4 0 Z"/><circle cx="0" cy="0" r="1.5"/></svg>
<div class="abs btn c" style="left:1760px;top:473px;width:32px"></div>
<svg class="abs" style="left:1768px;top:479.66px" width="16" height="16" viewBox="-8 -8 16 16" fill="none" stroke="#fff" stroke-width="1.2" stroke-linecap="round" stroke-linejoin="round"><path d="M-4.6 4.8 L-4.4 2.6 L2.6 -4.4 a1.5 1.5 0 0 1 2.1 2.1 L-2.3 4.6 Z"/></svg>
<div class="abs btn p" style="left:1801px;top:473px;width:32px"></div>
<svg class="abs" style="left:1809px;top:479.66px" width="16" height="16" viewBox="-8 -8 16 16" fill="none" stroke="#fff" stroke-width="1.2" stroke-linecap="round" stroke-linejoin="round"><path d="M-5.2 -3.4 H5.2 M-2 -3.4 V-4.8 a.6 .6 0 0 1 .6 -.6 H1.4 a.6 .6 0 0 1 .6 .6 V-3.4 M-4 -3.4 L-3.4 4.9 a.8 .8 0 0 0 .8 .7 H2.6 a.8 .8 0 0 0 .8 -.7 L4 -3.4 M-1 -1 V3.2 M1 -1 V3.2"/></svg>
<div class="abs" style="left:310px;top:519.86px;width:1555px;height:1.6px;background:#ededed"></div>
<div class="abs td" style="left:335px;top:546px">4</div>
<div class="abs bid" style="left:426px;top:533px">#BOK00005</div>
<div class="abs td" style="left:628px;top:546px">Gym</div>
<div class="abs td" style="left:816px;top:546px">WorkDo</div>
<div class="abs td" style="left:971px;top:546px">24 Apr 2025</div>
<div class="abs td" style="left:1156px;top:546px">04:00 PM</div>
<div class="abs td" style="left:1338px;top:546px">50 mins</div>
<div class="abs td" style="left:1483px;top:546px">3</div>
<div class="abs btn o" style="left:1719px;top:538px;width:33px"></div>
<svg class="abs" style="left:1727.5px;top:545.44px" width="16" height="16" viewBox="-8 -8 16 16" fill="none" stroke="#fff" stroke-width="1.2" stroke-linecap="round" stroke-linejoin="round"><path d="M-6.4 0 C-4.5 -3.2 -2.3 -4.6 0 -4.6 C2.3 -4.6 4.5 -3.2 6.4 0 C4.5 3.2 2.3 4.6 0 4.6 C-2.3 4.6 -4.5 3.2 -6.4 0 Z"/><circle cx="0" cy="0" r="1.5"/></svg>
<div class="abs btn c" style="left:1760px;top:538px;width:32px"></div>
<svg class="abs" style="left:1768px;top:545.44px" width="16" height="16" viewBox="-8 -8 16 16" fill="none" stroke="#fff" stroke-width="1.2" stroke-linecap="round" stroke-linejoin="round"><path d="M-4.6 4.8 L-4.4 2.6 L2.6 -4.4 a1.5 1.5 0 0 1 2.1 2.1 L-2.3 4.6 Z"/></svg>
<div class="abs btn p" style="left:1801px;top:538px;width:32px"></div>
<svg class="abs" style="left:1809px;top:545.44px" width="16" height="16" viewBox="-8 -8 16 16" fill="none" stroke="#fff" stroke-width="1.2" stroke-linecap="round" stroke-linejoin="round"><path d="M-5.2 -3.4 H5.2 M-2 -3.4 V-4.8 a.6 .6 0 0 1 .6 -.6 H1.4 a.6 .6 0 0 1 .6 .6 V-3.4 M-4 -3.4 L-3.4 4.9 a.8 .8 0 0 0 .8 .7 H2.6 a.8 .8 0 0 0 .8 -.7 L4 -3.4 M-1 -1 V3.2 M1 -1 V3.2"/></svg>
<div class="abs" style="left:310px;top:585.64px;width:1555px;height:1.6px;background:#ededed"></div>
<div class="abs td" style="left:335px;top:612px">5</div>
<div class="abs bid" style="left:426px;top:599px">#BOK00006</div>
<div class="abs td" style="left:628px;top:612px">Gym</div>
<div class="abs td" style="left:816px;top:612px">WorkDo</div>
<div class="abs td" style="left:971px;top:612px">24 Apr 2025</div>
<div class="abs td" style="left:1156px;top:612px">04:00 PM</div>
<div class="abs td" style="left:1338px;top:612px">50 mins</div>
<div class="abs td" style="left:1483px;top:612px">3</div>
<div class="abs btn o" style="left:1719px;top:604px;width:33px"></div>
<svg class="abs" style="left:1727.5px;top:611.22px" width="16" height="16" viewBox="-8 -8 16 16" fill="none" stroke="#fff" stroke-width="1.2" stroke-linecap="round" stroke-linejoin="round"><path d="M-6.4 0 C-4.5 -3.2 -2.3 -4.6 0 -4.6 C2.3 -4.6 4.5 -3.2 6.4 0 C4.5 3.2 2.3 4.6 0 4.6 C-2.3 4.6 -4.5 3.2 -6.4 0 Z"/><circle cx="0" cy="0" r="1.5"/></svg>
<div class="abs btn c" style="left:1760px;top:604px;width:32px"></div>
<svg class="abs" style="left:1768px;top:611.22px" width="16" height="16" viewBox="-8 -8 16 16" fill="none" stroke="#fff" stroke-width="1.2" stroke-linecap="round" stroke-linejoin="round"><path d="M-4.6 4.8 L-4.4 2.6 L2.6 -4.4 a1.5 1.5 0 0 1 2.1 2.1 L-2.3 4.6 Z"/></svg>
<div class="abs btn p" style="left:1801px;top:604px;width:32px"></div>
<svg class="abs" style="left:1809px;top:611.22px" width="16" height="16" viewBox="-8 -8 16 16" fill="none" stroke="#fff" stroke-width="1.2" stroke-linecap="round" stroke-linejoin="round"><path d="M-5.2 -3.4 H5.2 M-2 -3.4 V-4.8 a.6 .6 0 0 1 .6 -.6 H1.4 a.6 .6 0 0 1 .6 .6 V-3.4 M-4 -3.4 L-3.4 4.9 a.8 .8 0 0 0 .8 .7 H2.6 a.8 .8 0 0 0 .8 -.7 L4 -3.4 M-1 -1 V3.2 M1 -1 V3.2"/></svg>
<div class="abs" style="left:310px;top:651.42px;width:1555px;height:1.6px;background:#ededed"></div>
<div class="abs td" style="left:335px;top:678px">6</div>
<div class="abs bid" style="left:426px;top:665px">#BOK00008</div>
<div class="abs td" style="left:628px;top:678px">Swimming Pool</div>
<div class="abs td" style="left:816px;top:678px">WorkDo</div>
<div class="abs td" style="left:971px;top:678px">05 May 2025</div>
<div class="abs td" style="left:1156px;top:678px">11:02 AM</div>
<div class="abs td" style="left:1338px;top:678px">60 mins</div>
<div class="abs td" style="left:1483px;top:678px">4</div>
<div class="abs btn o" style="left:1719px;top:670px;width:33px"></div>
<svg class="abs" style="left:1727.5px;top:677.00px" width="16" height="16" viewBox="-8 -8 16 16" fill="none" stroke="#fff" stroke-width="1.2" stroke-linecap="round" stroke-linejoin="round"><path d="M-6.4 0 C-4.5 -3.2 -2.3 -4.6 0 -4.6 C2.3 -4.6 4.5 -3.2 6.4 0 C4.5 3.2 2.3 4.6 0 4.6 C-2.3 4.6 -4.5 3.2 -6.4 0 Z"/><circle cx="0" cy="0" r="1.5"/></svg>
<div class="abs btn c" style="left:1760px;top:670px;width:32px"></div>
<svg class="abs" style="left:1768px;top:677.00px" width="16" height="16" viewBox="-8 -8 16 16" fill="none" stroke="#fff" stroke-width="1.2" stroke-linecap="round" stroke-linejoin="round"><path d="M-4.6 4.8 L-4.4 2.6 L2.6 -4.4 a1.5 1.5 0 0 1 2.1 2.1 L-2.3 4.6 Z"/></svg>
<div class="abs btn p" style="left:1801px;top:670px;width:32px"></div>
<svg class="abs" style="left:1809px;top:677.00px" width="16" height="16" viewBox="-8 -8 16 16" fill="none" stroke="#fff" stroke-width="1.2" stroke-linecap="round" stroke-linejoin="round"><path d="M-5.2 -3.4 H5.2 M-2 -3.4 V-4.8 a.6 .6 0 0 1 .6 -.6 H1.4 a.6 .6 0 0 1 .6 .6 V-3.4 M-4 -3.4 L-3.4 4.9 a.8 .8 0 0 0 .8 .7 H2.6 a.8 .8 0 0 0 .8 -.7 L4 -3.4 M-1 -1 V3.2 M1 -1 V3.2"/></svg>
<div class="abs" style="left:310px;top:717.20px;width:1555px;height:1.6px;background:#ededed"></div>
<div class="abs td" style="left:335px;top:744px">7</div>
<div class="abs bid" style="left:426px;top:731px">#BOK00009</div>
<div class="abs td" style="left:628px;top:744px">Swimming Pool</div>
<div class="abs td" style="left:816px;top:744px">WorkDo</div>
<div class="abs td" style="left:971px;top:744px">05 May 2025</div>
<div class="abs td" style="left:1156px;top:744px">11:02 AM</div>
<div class="abs td" style="left:1338px;top:744px">60 mins</div>
<div class="abs td" style="left:1483px;top:744px">1</div>
<div class="abs btn o" style="left:1719px;top:736px;width:33px"></div>
<svg class="abs" style="left:1727.5px;top:742.78px" width="16" height="16" viewBox="-8 -8 16 16" fill="none" stroke="#fff" stroke-width="1.2" stroke-linecap="round" stroke-linejoin="round"><path d="M-6.4 0 C-4.5 -3.2 -2.3 -4.6 0 -4.6 C2.3 -4.6 4.5 -3.2 6.4 0 C4.5 3.2 2.3 4.6 0 4.6 C-2.3 4.6 -4.5 3.2 -6.4 0 Z"/><circle cx="0" cy="0" r="1.5"/></svg>
<div class="abs btn c" style="left:1760px;top:736px;width:32px"></div>
<svg class="abs" style="left:1768px;top:742.78px" width="16" height="16" viewBox="-8 -8 16 16" fill="none" stroke="#fff" stroke-width="1.2" stroke-linecap="round" stroke-linejoin="round"><path d="M-4.6 4.8 L-4.4 2.6 L2.6 -4.4 a1.5 1.5 0 0 1 2.1 2.1 L-2.3 4.6 Z"/></svg>
<div class="abs btn p" style="left:1801px;top:736px;width:32px"></div>
<svg class="abs" style="left:1809px;top:742.78px" width="16" height="16" viewBox="-8 -8 16 16" fill="none" stroke="#fff" stroke-width="1.2" stroke-linecap="round" stroke-linejoin="round"><path d="M-5.2 -3.4 H5.2 M-2 -3.4 V-4.8 a.6 .6 0 0 1 .6 -.6 H1.4 a.6 .6 0 0 1 .6 .6 V-3.4 M-4 -3.4 L-3.4 4.9 a.8 .8 0 0 0 .8 .7 H2.6 a.8 .8 0 0 0 .8 -.7 L4 -3.4 M-1 -1 V3.2 M1 -1 V3.2"/></svg>
<div class="abs" style="left:310px;top:782.98px;width:1555px;height:1.6px;background:#ededed"></div>
<div class="abs td" style="left:335px;top:809px">8</div>
<div class="abs bid" style="left:426px;top:796px">#BOK00010</div>
<div class="abs td" style="left:628px;top:809px">Swimming Pool</div>
<div class="abs td" style="left:816px;top:809px">WorkDo</div>
<div class="abs td" style="left:971px;top:809px">05 May 2025</div>
<div class="abs td" style="left:1156px;top:809px">12:02 PM</div>
<div class="abs td" style="left:1338px;top:809px">60 mins</div>
<div class="abs td" style="left:1483px;top:809px">2</div>
<div class="abs btn o" style="left:1719px;top:801px;width:33px"></div>
<svg class="abs" style="left:1727.5px;top:808.56px" width="16" height="16" viewBox="-8 -8 16 16" fill="none" stroke="#fff" stroke-width="1.2" stroke-linecap="round" stroke-linejoin="round"><path d="M-6.4 0 C-4.5 -3.2 -2.3 -4.6 0 -4.6 C2.3 -4.6 4.5 -3.2 6.4 0 C4.5 3.2 2.3 4.6 0 4.6 C-2.3 4.6 -4.5 3.2 -6.4 0 Z"/><circle cx="0" cy="0" r="1.5"/></svg>
<div class="abs btn c" style="left:1760px;top:801px;width:32px"></div>
<svg class="abs" style="left:1768px;top:808.56px" width="16" height="16" viewBox="-8 -8 16 16" fill="none" stroke="#fff" stroke-width="1.2" stroke-linecap="round" stroke-linejoin="round"><path d="M-4.6 4.8 L-4.4 2.6 L2.6 -4.4 a1.5 1.5 0 0 1 2.1 2.1 L-2.3 4.6 Z"/></svg>
<div class="abs btn p" style="left:1801px;top:801px;width:32px"></div>
<svg class="abs" style="left:1809px;top:808.56px" width="16" height="16" viewBox="-8 -8 16 16" fill="none" stroke="#fff" stroke-width="1.2" stroke-linecap="round" stroke-linejoin="round"><path d="M-5.2 -3.4 H5.2 M-2 -3.4 V-4.8 a.6 .6 0 0 1 .6 -.6 H1.4 a.6 .6 0 0 1 .6 .6 V-3.4 M-4 -3.4 L-3.4 4.9 a.8 .8 0 0 0 .8 .7 H2.6 a.8 .8 0 0 0 .8 -.7 L4 -3.4 M-1 -1 V3.2 M1 -1 V3.2"/></svg>
<div class="abs" style="left:310px;top:848.76px;width:1555px;height:1.6px;background:#ededed"></div>
<div class="abs td" style="left:335px;top:875px">9</div>
<div class="abs bid" style="left:426px;top:862px">#BOK00011</div>
<div class="abs td" style="left:628px;top:875px">Swimming Pool</div>
<div class="abs td" style="left:816px;top:875px">WorkDo</div>
<div class="abs td" style="left:971px;top:875px">05 May 2025</div>
<div class="abs td" style="left:1156px;top:875px">08:02 PM</div>
<div class="abs td" style="left:1338px;top:875px">60 mins</div>
<div class="abs td" style="left:1483px;top:875px">1</div>
<div class="abs btn o" style="left:1719px;top:867px;width:33px"></div>
<svg class="abs" style="left:1727.5px;top:874.34px" width="16" height="16" viewBox="-8 -8 16 16" fill="none" stroke="#fff" stroke-width="1.2" stroke-linecap="round" stroke-linejoin="round"><path d="M-6.4 0 C-4.5 -3.2 -2.3 -4.6 0 -4.6 C2.3 -4.6 4.5 -3.2 6.4 0 C4.5 3.2 2.3 4.6 0 4.6 C-2.3 4.6 -4.5 3.2 -6.4 0 Z"/><circle cx="0" cy="0" r="1.5"/></svg>
<div class="abs btn c" style="left:1760px;top:867px;width:32px"></div>
<svg class="abs" style="left:1768px;top:874.34px" width="16" height="16" viewBox="-8 -8 16 16" fill="none" stroke="#fff" stroke-width="1.2" stroke-linecap="round" stroke-linejoin="round"><path d="M-4.6 4.8 L-4.4 2.6 L2.6 -4.4 a1.5 1.5 0 0 1 2.1 2.1 L-2.3 4.6 Z"/></svg>
<div class="abs btn p" style="left:1801px;top:867px;width:32px"></div>
<svg class="abs" style="left:1809px;top:874.34px" width="16" height="16" viewBox="-8 -8 16 16" fill="none" stroke="#fff" stroke-width="1.2" stroke-linecap="round" stroke-linejoin="round"><path d="M-5.2 -3.4 H5.2 M-2 -3.4 V-4.8 a.6 .6 0 0 1 .6 -.6 H1.4 a.6 .6 0 0 1 .6 .6 V-3.4 M-4 -3.4 L-3.4 4.9 a.8 .8 0 0 0 .8 .7 H2.6 a.8 .8 0 0 0 .8 -.7 L4 -3.4 M-1 -1 V3.2 M1 -1 V3.2"/></svg>
<div class="abs" style="left:310px;top:914.54px;width:1555px;height:1.6px;background:#ededed"></div>
<div class="abs td" style="left:335px;top:941px">10</div>
<div class="abs bid" style="left:426px;top:928px">#BOK00012</div>
<div class="abs td" style="left:628px;top:941px">Swimming Pool</div>
<div class="abs td" style="left:816px;top:941px">WorkDo</div>
<div class="abs td" style="left:971px;top:941px">05 May 2025</div>
<div class="abs td" style="left:1156px;top:941px">08:02 PM</div>
<div class="abs td" style="left:1338px;top:941px">60 mins</div>
<div class="abs td" style="left:1483px;top:941px">4</div>
<div class="abs btn o" style="left:1719px;top:933px;width:33px"></div>
<svg class="abs" style="left:1727.5px;top:940.12px" width="16" height="16" viewBox="-8 -8 16 16" fill="none" stroke="#fff" stroke-width="1.2" stroke-linecap="round" stroke-linejoin="round"><path d="M-6.4 0 C-4.5 -3.2 -2.3 -4.6 0 -4.6 C2.3 -4.6 4.5 -3.2 6.4 0 C4.5 3.2 2.3 4.6 0 4.6 C-2.3 4.6 -4.5 3.2 -6.4 0 Z"/><circle cx="0" cy="0" r="1.5"/></svg>
<div class="abs btn c" style="left:1760px;top:933px;width:32px"></div>
<svg class="abs" style="left:1768px;top:940.12px" width="16" height="16" viewBox="-8 -8 16 16" fill="none" stroke="#fff" stroke-width="1.2" stroke-linecap="round" stroke-linejoin="round"><path d="M-4.6 4.8 L-4.4 2.6 L2.6 -4.4 a1.5 1.5 0 0 1 2.1 2.1 L-2.3 4.6 Z"/></svg>
<div class="abs btn p" style="left:1801px;top:933px;width:32px"></div>
<svg class="abs" style="left:1809px;top:940.12px" width="16" height="16" viewBox="-8 -8 16 16" fill="none" stroke="#fff" stroke-width="1.2" stroke-linecap="round" stroke-linejoin="round"><path d="M-5.2 -3.4 H5.2 M-2 -3.4 V-4.8 a.6 .6 0 0 1 .6 -.6 H1.4 a.6 .6 0 0 1 .6 .6 V-3.4 M-4 -3.4 L-3.4 4.9 a.8 .8 0 0 0 .8 .7 H2.6 a.8 .8 0 0 0 .8 -.7 L4 -3.4 M-1 -1 V3.2 M1 -1 V3.2"/></svg>
<div class="abs" style="left:310px;top:980.32px;width:1555px;height:1.6px;background:#ededed"></div>
<div class="abs td" style="left:310px;top:1024px;letter-spacing:.25px">Showing 1 to 10 of 15 entries</div>
<div class="abs pg" style="left:1710px;top:1014px"></div><svg class="abs" style="left:1724px;top:1027px" width="7" height="10" viewBox="0 0 7 10"><path d="M5.3 1.2 L1.6 5 L5.3 8.8" fill="none" stroke="#7a828e" stroke-width="1.2" stroke-linecap="round"/></svg>
<div class="abs pg" style="left:1750px;top:1014px;background:#00ad5f;border-color:#00ad5f;color:#e8f8ee;padding-top:1px">1</div>
<div class="abs pg" style="left:1790px;top:1014px;padding-top:1px">2</div>
<div class="abs pg" style="left:1830px;top:1014px"></div><svg class="abs" style="left:1844px;top:1027px" width="7" height="10" viewBox="0 0 7 10"><path d="M1.6 1.2 L5.3 5 L1.6 8.8" fill="none" stroke="#1a1a2e" stroke-width="1.5" stroke-linecap="round"/></svg>

</body></html>
